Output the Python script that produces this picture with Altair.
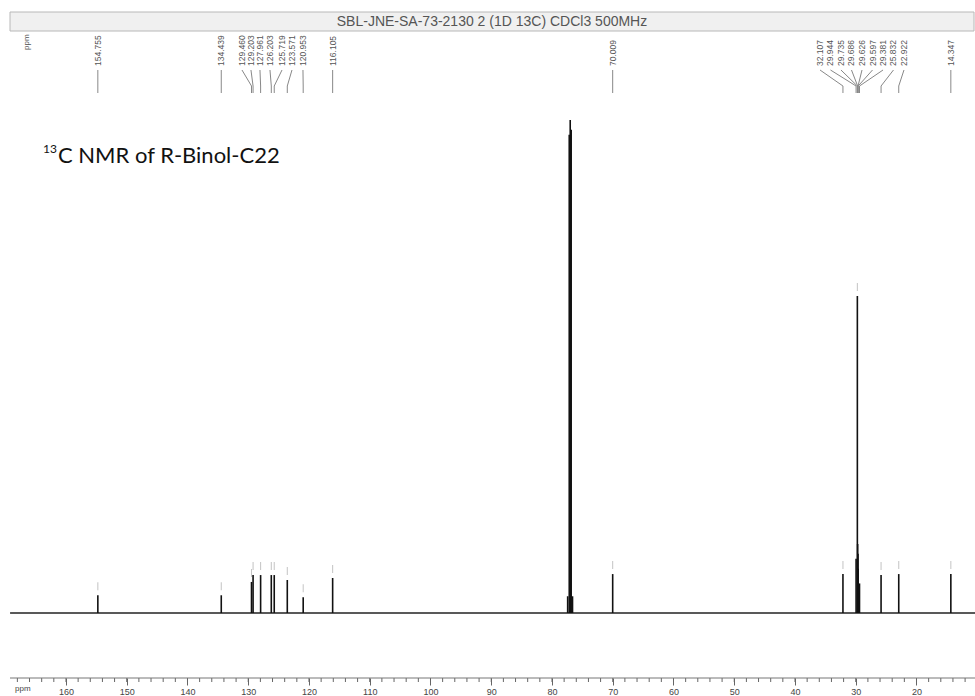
import altair as alt
import pandas as pd

# ---------------- data ----------------
title_text = "SBL-JNE-SA-73-2130 2 (1D 13C) CDCl3 500MHz"
caption_sup = "13"
caption_main = "C NMR of R-Binol-C22"

# peak positions (ppm) and heights (relative intensity, solvent = 100)
peak_ppm = [154.755, 134.439, 129.460, 129.203, 127.961, 126.203, 125.719,
            123.571, 120.953, 116.105, 77.42, 77.16, 77.00, 76.84, 76.62,
            70.009, 32.107, 29.944, 29.735, 29.686, 29.626, 29.597, 29.381,
            25.832, 22.922, 14.347]
peak_height = [3.6, 3.6, 6.3, 7.7, 7.7, 7.7, 7.7,
               6.7, 3.2, 7.1, 3.4, 97.0, 100.0, 98.0, 3.4,
               7.9, 7.9, 11.0, 64.3, 14.0, 12.0, 9.0, 6.0,
               7.7, 7.9, 7.9]

# peak labels: text, peak position, position of the label (ppm)
label_text = ["154.755", "134.439", "129.460", "129.203", "127.961", "126.203",
              "125.719", "123.571", "120.953", "116.105", "70.009",
              "32.107", "29.944", "29.735", "29.686", "29.626", "29.597",
              "29.381", "25.832", "22.922", "14.347"]
label_peak_ppm = [154.755, 134.439, 129.460, 129.203, 127.961, 126.203,
                  125.719, 123.571, 120.953, 116.105, 70.009,
                  32.107, 29.944, 29.735, 29.686, 29.626, 29.597,
                  29.381, 25.832, 22.922, 14.347]
label_pos_ppm = [154.755, 134.439, 131.03, 129.55, 128.07, 126.42,
                 124.44, 122.80, 120.99, 116.105, 70.009,
                 35.88, 34.16, 32.43, 30.70, 28.97, 27.24,
                 25.51, 23.79, 22.06, 14.347]
# peaks that carry a small marker dash above them
marked_ppm = [154.755, 134.439, 129.460, 129.203, 127.961, 126.203, 125.719,
              123.571, 120.953, 116.105, 70.009, 32.107, 29.735,
              25.832, 22.922, 14.347]

spectrum_range = [169.2, 10.37]
major_ticks = list(range(20, 161, 10))
minor_ticks = list(range(12, 170, 2))

# ---------------- tables ----------------
peaks = pd.DataFrame({"ppm": peak_ppm, "h": peak_height})
peaks["base"] = 0.0
labels = pd.DataFrame({"label": label_text, "peak": label_peak_ppm,
                       "pos": label_pos_ppm})
markers = peaks[peaks["ppm"].isin(marked_ppm)].copy()
baseline = pd.DataFrame({"x1": [spectrum_range[0]], "x2": [spectrum_range[1]],
                         "y": [0.0]})
minor = pd.DataFrame({"ppm": minor_ticks})
one = alt.Data(values=[{"a": 1}])

xs = alt.Scale(domain=[10.37, 170.86], reverse=True, nice=False, zero=False)
ys = alt.Scale(domain=[-13.18, 124.34], nice=False, zero=False)

FONT = "Liberation Sans"

x_axis = alt.Axis(values=major_ticks, tickSize=7, tickColor="#666",
                  domain=False, grid=False, title=None, labelFontSize=9,
                  labelColor="#444", labelFont=FONT, labelPadding=2,
                  labelFlush=False)

base_line = alt.Chart(baseline).mark_rule(color="#222", strokeWidth=1.4).encode(
    x=alt.X("x1:Q", scale=xs, axis=x_axis),
    x2="x2:Q",
    y=alt.Y("y:Q", scale=ys, axis=None),
)

peak_layer = alt.Chart(peaks).mark_rule(color="#111", strokeWidth=1.6).encode(
    x=alt.X("ppm:Q", scale=xs, axis=x_axis),
    y=alt.Y("h:Q", scale=ys, axis=None),
    y2="base:Q",
)

marker_layer = alt.Chart(markers).mark_tick(
    orient="vertical", size=8, thickness=1, color="#aaa", yOffset=-9
).encode(
    x=alt.X("ppm:Q", scale=xs, axis=x_axis),
    y=alt.Y("h:Q", scale=ys, axis=None),
)

minor_layer = alt.Chart(minor).mark_rule(color="#666", strokeWidth=1).encode(
    x=alt.X("ppm:Q", scale=xs, axis=x_axis),
    y=alt.value(678),
    y2=alt.value(682),
)

axis_line = alt.Chart(one).mark_rule(color="#777", strokeWidth=1).encode(
    x=alt.value(10), x2=alt.value(975), y=alt.value(678)
)

conn_angled = alt.Chart(labels).mark_rule(color="#888", strokeWidth=1).encode(
    x=alt.X("pos:Q", scale=xs, axis=x_axis),
    x2="peak:Q",
    y=alt.value(70),
    y2=alt.value(86),
)
conn_vert = alt.Chart(labels).mark_rule(color="#888", strokeWidth=1).encode(
    x=alt.X("peak:Q", scale=xs, axis=x_axis),
    y=alt.value(86),
    y2=alt.value(93),
)

label_layer = alt.Chart(labels).mark_text(
    angle=270, align="left", baseline="middle", fontSize=8.5,
    color="#555", font=FONT
).encode(
    x=alt.X("pos:Q", scale=xs, axis=x_axis),
    y=alt.value(66),
    text="label:N",
)

header_rect = alt.Chart(one).mark_rect(
    fill="#f0f0f0", stroke="#b8b8b8", strokeWidth=1
).encode(x=alt.value(10), x2=alt.value(974), y=alt.value(12), y2=alt.value(31))

header_text = alt.Chart(one).mark_text(
    fontSize=14, color="#555", font=FONT, align="center", baseline="middle"
).encode(x=alt.value(492), y=alt.value(22), text=alt.value(title_text))

ppm_top = alt.Chart(one).mark_text(
    angle=270, align="left", baseline="middle", fontSize=8, color="#555", font=FONT
).encode(x=alt.value(27), y=alt.value(50), text=alt.value("ppm"))

ppm_bottom = alt.Chart(one).mark_text(
    align="left", baseline="middle", fontSize=8, color="#444", font=FONT
).encode(x=alt.value(15), y=alt.value(689), text=alt.value("ppm"))

cap_sup = alt.Chart(one).mark_text(
    align="left", baseline="alphabetic", fontSize=12, color="#111", font="Lato"
).encode(x=alt.value(43), y=alt.value(153), text=alt.value(caption_sup))

cap_main = alt.Chart(one).mark_text(
    align="left", baseline="alphabetic", fontSize=22, color="#111", font="Lato"
).encode(x=alt.value(58), y=alt.value(163), text=alt.value(caption_main))

chart = alt.layer(
    header_rect, header_text, ppm_top, conn_angled, conn_vert, label_layer,
    base_line, peak_layer, marker_layer, minor_layer, axis_line, ppm_bottom,
    cap_sup, cap_main,
).properties(
    width=975, height=678,
    autosize=alt.AutoSizeParams(type="none"),
    padding={"left": 0, "top": 0, "right": 0, "bottom": 18},
    background="white",
).configure_view(stroke=None)

chart.save("out.html", embed_options={"renderer": "svg", "actions": False})
